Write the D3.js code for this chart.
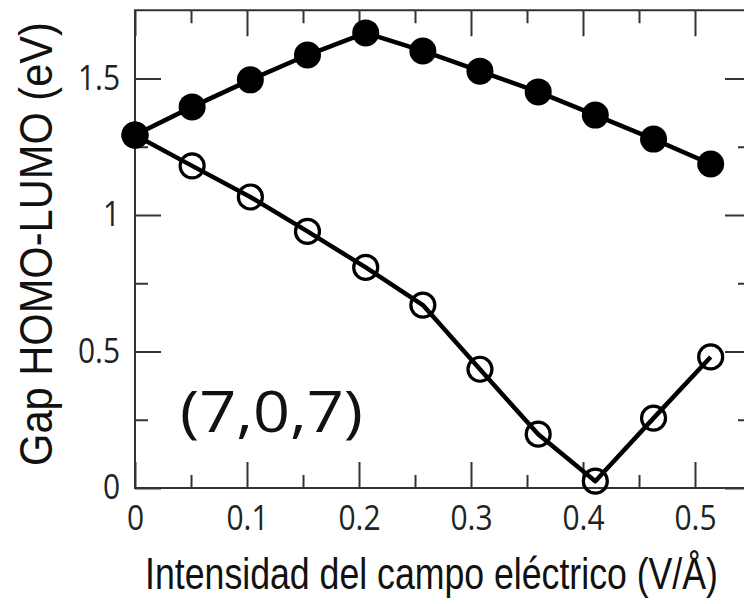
<!DOCTYPE html>
<html>
<head>
<meta charset="utf-8">
<script src="https://cdn.jsdelivr.net/npm/d3@7"></script>
<style>
  html, body { margin: 0; padding: 0; background: #fff; }
  svg { display: block; }
</style>
</head>
<body>
<svg id="chart" width="744" height="604"></svg>
<script>
// Field strength (V/Å) at which the gap was computed
const fieldValues = [0, 0.051, 0.103, 0.154, 0.206, 0.257, 0.308, 0.360, 0.411, 0.463, 0.514];
// HOMO-LUMO gap (eV), filled-marker series
const gapFilled = [1.293, 1.396, 1.495, 1.586, 1.667, 1.601, 1.527, 1.451, 1.366, 1.278, 1.187];
// HOMO-LUMO gap (eV), open-marker series
const gapOpen = [1.293, 1.180, 1.066, 0.940, 0.808, 0.670, 0.435, 0.197, 0.025, 0.256, 0.480];

const xMajorTicks = [0, 0.1, 0.2, 0.3, 0.4, 0.5];
const xMinorTicks = [0.05, 0.15, 0.25, 0.35, 0.45];
const yMajorTicks = [0, 0.5, 1, 1.5];
const yMinorTicks = [0.25, 0.75, 1.25];

const xTitle = "Intensidad del campo eléctrico (V/Å)";
const yTitle = "Gap HOMO-LUMO (eV)";
const systemLabel = "(7,0,7)";

const svg = d3.select("#chart");

const x = d3.scaleLinear().domain([0, 0.55]).range([135, 751]);
const y = d3.scaleLinear().domain([0, 1.75]).range([488, 10.25]);

const axisColor = "#333";
const tickFont = "'Open Sans', 'Noto Sans', sans-serif";
const titleFont = "'Liberation Sans Narrow', 'Arial Narrow', 'Liberation Sans', Arial, sans-serif";
const majorLen = 26, minorLen = 13;
const tickSquash = 0.88;

// Frame around the plot area
svg.append("rect")
  .attr("x", x(0)).attr("y", y(1.75))
  .attr("width", x(0.55) - x(0)).attr("height", y(0) - y(1.75))
  .attr("fill", "none").attr("stroke", axisColor).attr("stroke-width", 2);

function styleAxis(g) {
  g.select(".domain").remove();
  g.selectAll(".tick line").attr("stroke", axisColor).attr("stroke-width", 2);
  g.selectAll(".tick text")
    .attr("fill", "#222")
    .attr("transform", `scale(${tickSquash},1)`)
    .style("font-family", tickFont)
    .style("font-size", "34px")
    .style("font-weight", "500");
}

// Bottom axis (labelled) and minor ticks
svg.append("g").attr("transform", `translate(0,${y(0)})`)
  .call(d3.axisBottom(x).tickValues(xMajorTicks).tickSize(-majorLen).tickPadding(18)
        .tickFormat(d => d === 0 ? "0" : d3.format(".1f")(d)))
  .call(styleAxis);
svg.append("g").attr("transform", `translate(0,${y(0)})`)
  .call(d3.axisBottom(x).tickValues(xMinorTicks).tickSize(-minorLen).tickFormat(""))
  .call(styleAxis);

// Top axis ticks
svg.append("g").attr("transform", `translate(0,${y(1.75)})`)
  .call(d3.axisTop(x).tickValues(xMajorTicks).tickSize(-majorLen).tickFormat(""))
  .call(styleAxis);
svg.append("g").attr("transform", `translate(0,${y(1.75)})`)
  .call(d3.axisTop(x).tickValues(xMinorTicks).tickSize(-minorLen).tickFormat(""))
  .call(styleAxis);

// Left axis (labelled) and minor ticks
svg.append("g").attr("transform", `translate(${x(0)},0)`)
  .call(d3.axisLeft(y).tickValues(yMajorTicks).tickSize(-majorLen).tickPadding(17)
        .tickFormat(d => d3.format("")(d)))
  .call(styleAxis);
svg.append("g").attr("transform", `translate(${x(0)},0)`)
  .call(d3.axisLeft(y).tickValues(yMinorTicks).tickSize(-minorLen).tickFormat(""))
  .call(styleAxis);

// Right axis ticks
svg.append("g").attr("transform", `translate(${x(0.55)},0)`)
  .call(d3.axisRight(y).tickValues(yMajorTicks).tickSize(-majorLen).tickFormat(""))
  .call(styleAxis);
svg.append("g").attr("transform", `translate(${x(0.55)},0)`)
  .call(d3.axisRight(y).tickValues(yMinorTicks).tickSize(-minorLen).tickFormat(""))
  .call(styleAxis);

// Series lines
const line = d3.line().x(d => x(d[0])).y(d => y(d[1]));
const openPts = fieldValues.map((f, i) => [f, gapOpen[i]]);
const filledPts = fieldValues.map((f, i) => [f, gapFilled[i]]);

svg.append("path").datum(openPts).attr("d", line)
  .attr("fill", "none").attr("stroke", "#000").attr("stroke-width", 4.5)
  .attr("stroke-linejoin", "round");
svg.append("path").datum(filledPts).attr("d", line)
  .attr("fill", "none").attr("stroke", "#000").attr("stroke-width", 4.5)
  .attr("stroke-linejoin", "round");

// Markers
svg.append("g").selectAll("circle").data(openPts).join("circle")
  .attr("cx", d => x(d[0])).attr("cy", d => y(d[1])).attr("r", 12)
  .attr("fill", "none").attr("stroke", "#000").attr("stroke-width", 3.2);
svg.append("g").selectAll("circle").data(filledPts).join("circle")
  .attr("cx", d => x(d[0])).attr("cy", d => y(d[1])).attr("r", 13.5)
  .attr("fill", "#000");

// Place a text centred at (cx, cy) and squeeze it horizontally to a given width
function fittedText(str, cx, cy, width, font, size, weight, rotate) {
  const t = svg.append("text")
    .attr("text-anchor", "middle")
    .style("font-family", font).style("font-size", size + "px")
    .style("font-weight", weight)
    .attr("fill", "#111")
    .text(str);
  const natural = t.node().getComputedTextLength();
  const sx = width / natural;
  t.attr("transform", `translate(${cx},${cy}) rotate(${rotate}) scale(${sx},1)`);
  return t;
}

// System label
fittedText(systemLabel, 271.5, 432, 183, tickFont, 56, 500, 0);

// Axis titles
fittedText(xTitle, 431.5, 589, 573, titleFont, 45, 400, 0);
fittedText(yTitle, 52, 244, 444, titleFont, 47, 400, -90);
</script>
</body>
</html>
